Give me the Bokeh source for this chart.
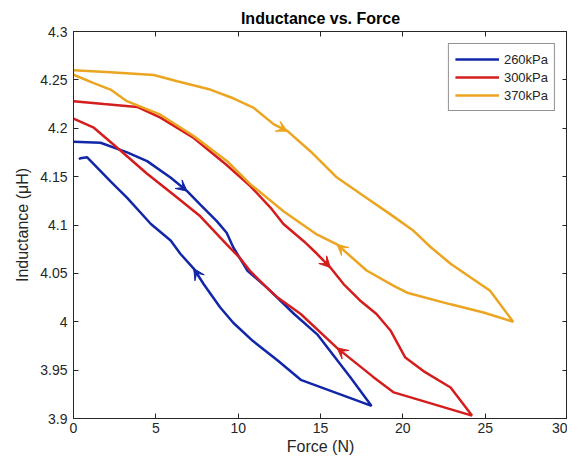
from bokeh.plotting import figure
from bokeh.models import (LinearAxis, FixedTicker, Arrow, VeeHead, Range1d, Legend)
from bokeh.embed import file_html
from bokeh.resources import INLINE

# ---- data ----
names = ["260kPa", "300kPa", "370kPa"]
colors = ["#1226A8", "#D41E1E", "#EBA520"]

x260 = [0, 1.64, 3.26, 4.47, 5.89, 6.9, 7.7, 8.7, 9.3, 9.7, 10.55, 11.76, 13.4, 14.8, 16.8, 18.1,
        13.8, 12.4, 10.9, 9.7, 8.9, 7.9, 7.3, 6.5, 5.9, 4.7, 3.26, 2.25, 1.23, 0.83, 0.42, 0.33]
y260 = [4.186, 4.185, 4.175, 4.166, 4.149, 4.135, 4.121, 4.104, 4.092, 4.077, 4.053, 4.035, 4.008, 3.987, 3.943, 3.913,
        3.940, 3.960, 3.980, 3.999, 4.015, 4.039, 4.055, 4.070, 4.084, 4.101, 4.128, 4.145, 4.163, 4.170, 4.169, 4.168]

x300 = [0, 1.84, 3.87, 5.28, 7.3, 9.3, 10.75, 11.96, 12.75, 14.0, 14.8, 15.6, 16.4, 17.4, 18.4, 19.25, 20.15, 21.25, 22.9, 24.2,
        19.45, 18.2, 16.0, 13.8, 12.4, 11.76, 10.75, 10.1, 9.3, 7.7, 6.1, 4.47, 2.85, 1.2, 0]
y300 = [4.228, 4.225, 4.222, 4.211, 4.19, 4.162, 4.14, 4.118, 4.101, 4.083, 4.07, 4.056, 4.039, 4.022, 4.008, 3.991, 3.963, 3.949, 3.932, 3.903,
        3.927, 3.943, 3.973, 4.008, 4.025, 4.035, 4.052, 4.066, 4.08, 4.109, 4.131, 4.153, 4.177, 4.201, 4.21]

x370 = [0, 2.25, 4.88, 6.3, 8.3, 9.7, 10.95, 12.17, 13.0, 14.4, 16.0, 17.8, 19.25, 20.65, 21.7, 22.9, 25.3, 26.7,
        24.9, 22.9, 20.26, 19.45, 17.8, 16.0, 14.8, 12.77, 10.75, 9.33, 7.3, 5.28, 3.24, 2.25, 1.23, 0]
y370 = [4.260, 4.258, 4.255, 4.2485, 4.24, 4.231, 4.221, 4.204, 4.197, 4.176, 4.149, 4.128, 4.111, 4.094, 4.077, 4.06, 4.032, 4.0,
        4.0096, 4.018, 4.03, 4.037, 4.053, 4.08, 4.09, 4.114, 4.142, 4.166, 4.192, 4.214, 4.228, 4.24, 4.2467, 4.2553]

# indices of points where direction arrows sit (arrow from point i-1 to i)
arrows260 = [5, 22]
arrows300 = [11, 22]
arrows370 = [8, 23]

xticks = [0, 5, 10, 15, 20, 25, 30]
yticks = [3.9, 3.95, 4.0, 4.05, 4.1, 4.15, 4.2, 4.25, 4.3]
ytick_labels = ["3.9", "3.95", "4", "4.05", "4.1", "4.15", "4.2", "4.25", "4.3"]

FONT = "Liberation Sans"
INK = "#262626"

p = figure(frame_width=494, frame_height=387, output_backend="svg", toolbar_location=None,
           x_range=Range1d(0, 30), y_range=Range1d(3.9, 4.3),
           title="Inductance vs. Force", x_axis_label="Force (N)", y_axis_label="Inductance (μH)",
           min_border_left=73, min_border_right=0, min_border_top=31, min_border_bottom=36)

p.title.align = "center"
p.title.text_font = FONT
p.title.text_font_size = "16px"
p.title.text_font_style = "bold"
p.title.text_color = "black"
p.xgrid.visible = False
p.ygrid.visible = False
p.outline_line_color = INK
p.outline_line_width = 1
p.background_fill_color = "white"
p.border_fill_color = "white"

for ax in (p.xaxis[0], p.yaxis[0]):
    ax.major_tick_in = 5
    ax.major_tick_out = 0
    ax.minor_tick_line_color = None
    ax.axis_line_color = INK
    ax.major_tick_line_color = INK
    ax.major_label_text_font = FONT
    ax.major_label_text_font_size = "14px"
    ax.major_label_text_color = INK
    ax.axis_label_text_font = FONT
    ax.axis_label_text_font_size = "16px"
    ax.axis_label_text_font_style = "normal"
    ax.axis_label_text_color = INK

p.xaxis[0].ticker = FixedTicker(ticks=xticks)
p.yaxis[0].ticker = FixedTicker(ticks=yticks)
p.yaxis[0].major_label_overrides = {t: l for t, l in zip(yticks, ytick_labels)}
p.xaxis[0].major_label_standoff = 4
p.yaxis[0].major_label_standoff = 6
p.xaxis[0].axis_label_standoff = 2
p.yaxis[0].axis_label_standoff = 6

# mirrored tick axes (box style), labels not painted
top = LinearAxis(ticker=FixedTicker(ticks=xticks), major_label_text_color=None,
                 major_label_text_font_size="1px",
                 major_tick_in=5, major_tick_out=0, minor_tick_line_color=None,
                 axis_line_color=INK, major_tick_line_color=INK, major_label_standoff=0)
right = LinearAxis(ticker=FixedTicker(ticks=yticks), major_label_text_color=None,
                   major_label_text_font_size="1px",
                   major_tick_in=5, major_tick_out=0, minor_tick_line_color=None,
                   axis_line_color=INK, major_tick_line_color=INK, major_label_standoff=0)
p.add_layout(top, "above")
p.add_layout(right, "right")

series = [(x260, y260, arrows260), (x300, y300, arrows300), (x370, y370, arrows370)]
renderers = []
for (xs, ys, arr), name, c in zip(series, names, colors):
    r = p.line(xs, ys, line_color=c, line_width=2.5)
    renderers.append((name, [r]))
    for i in arr:
        p.add_layout(Arrow(end=VeeHead(size=11, fill_color=c, line_color=c, line_width=1),
                           x_start=xs[i - 1], y_start=ys[i - 1], x_end=xs[i], y_end=ys[i],
                           line_alpha=0))

legend = Legend(items=renderers, location="top_right")
legend.border_line_color = INK
legend.border_line_width = 1
legend.label_text_font = FONT
legend.label_text_font_size = "13px"
legend.label_text_color = INK
legend.glyph_width = 44
legend.glyph_height = 18
legend.label_height = 18
legend.spacing = 0
legend.padding = 6
legend.margin = 12
legend.label_standoff = 5
p.add_layout(legend, "center")

open("out.html", "w").write(file_html(p, INLINE))
